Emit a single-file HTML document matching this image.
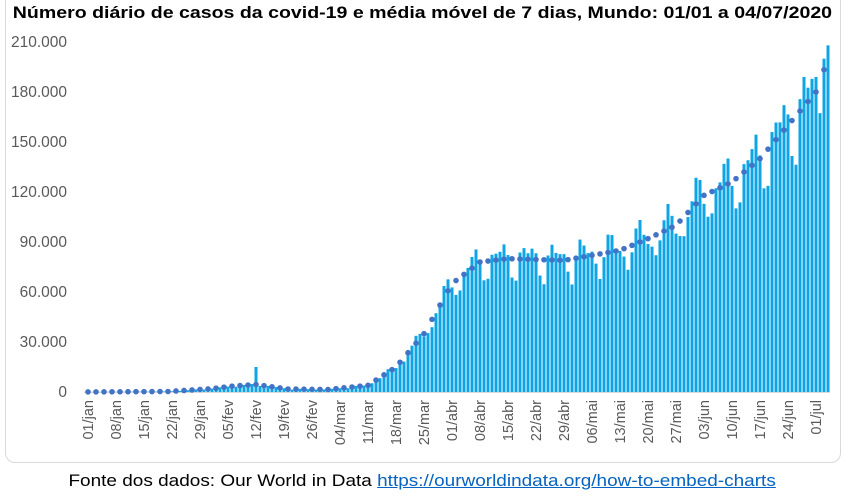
<!DOCTYPE html>
<html><head><meta charset="utf-8"><style>
body{margin:0;width:845px;height:497px;background:#fff;overflow:hidden;font-family:"Liberation Sans",sans-serif}
#box{position:absolute;left:5px;top:-8px;width:834px;height:469px;border:1.5px solid #d9d9d9;border-radius:10px}
#t{position:absolute;left:0;width:845px;top:3px;text-align:center;font-weight:bold;font-size:17px;color:#000;transform:scaleX(1.15);transform-origin:423px 0}
#f{position:absolute;left:0;width:845px;top:472px;text-align:center;font-size:16.5px;color:#000;transform:scaleX(1.15);transform-origin:425px 0}
#f a{color:#0563c1;text-decoration:underline}
svg{position:absolute;left:0;top:0}
</style></head><body>
<div id="box"></div>
<div id="t">Número diário de casos da covid-19 e média móvel de 7 dias, Mundo: 01/01 a 04/07/2020</div>
<svg id="s" width="845" height="497"></svg>
<div id="f">Fonte dos dados: Our World in Data <a>https://ourworldindata.org/how-to-embed-charts</a></div>
<script>
const s=document.getElementById('s');let h='';
const Y=v=>392-v/30000*50;
const lab=['0','30.000','60.000','90.000','120.000','150.000','180.000','210.000'];
lab.forEach((l,k)=>{h+=`<text x="67" y="${Y(k*30000)+5}" text-anchor="end" font-size="15.5" fill="#595959">${l}</text>`});
h+=`<line x1="84" y1="392.5" x2="830" y2="392.5" stroke="#d9d9d9" stroke-width="1"/>`;
const kp=[[0,50],[20,300],[31,2000],[36,3500],[42,4500],[50,1800],[60,1500],[70,4000],[77,15000],[84,35000],[91,65000],[98,78000],[105,80000],[119,79000],[126,82000],[133,85000],[140,92000],[147,100000],[154,118000],[161,126000],[168,140000],[175,160000],[182,180000],[185,200000]];
function ma(i){for(let k=0;k<kp.length-1;k++){const[a,b]=kp[k],[c,d]=kp[k+1];if(i<=c)return b+(d-b)*(i-a)/(c-a)}return 200000}
const wk=[1.0,0.9,0.85,1.0,1.08,1.1,1.07];
const N=186,dx=4.0;
for(let i=0;i<N;i++){const x=88+dx*i;let v=ma(i)*wk[i%7]*(1+0.05*Math.sin(i*1.7));
if(i==42)v=15000;if(i==184)v=200000;if(i==185)v=208000;
h+=`<rect x="${x-1.5}" y="${Y(v)}" width="3" height="${392-Y(v)}" fill="#0ea5e6"/>`;
if(i%2==0)h+=`<circle cx="${x}" cy="${Y(ma(i))}" r="2.8" fill="#4472c4"/>`;}
const ds=['01/jan','08/jan','15/jan','22/jan','29/jan','05/fev','12/fev','19/fev','26/fev','04/mar','11/mar','18/mar','25/mar','01/abr','08/abr','15/abr','22/abr','29/abr','06/mai','13/mai','20/mai','27/mai','03/jun','10/jun','17/jun','24/jun','01/jul'];
ds.forEach((d,k)=>{const x=88+dx*7*k+5;h+=`<text transform="translate(${x},400) rotate(-90)" text-anchor="end" font-size="14.5" fill="#595959">${d}</text>`});
s.innerHTML=h;
</script>
</body></html>
